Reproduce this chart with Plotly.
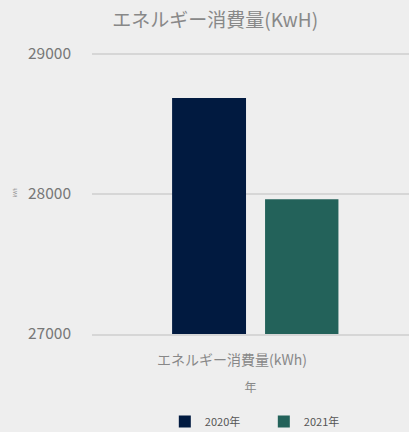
import plotly.graph_objects as go

categories = ["エネルギー消費量(kWh)"]
series_names = ["2020年", "2021年"]
values_2020 = [28684]
values_2021 = [27962]
y_ticks = [27000, 28000, 29000]
y_tick_text = ["27000", "28000", "29000"]

colors = ["#011a40", "#23625a"]
FONT = "Noto Sans CJK JP"
GRID = "#d6d6d6"

fig = go.Figure()
fig.add_trace(go.Bar(x=categories, y=values_2020, name=series_names[0],
                     marker=dict(color=colors[0], line=dict(width=0)),
                     width=0.264, offset=-0.214))
fig.add_trace(go.Bar(x=categories, y=values_2021, name=series_names[1],
                     marker=dict(color=colors[1], line=dict(width=0)),
                     width=0.262, offset=0.118))

fig.update_layout(
    width=409, height=432,
    margin=dict(l=92, r=0, t=51.2, b=97.5, autoexpand=False),
    paper_bgcolor="#eeeeee", plot_bgcolor="#eeeeee",
    barmode="overlay",
    font=dict(family=FONT, color="#777777"),
    title=dict(text="エネルギー消費量(KwH)", x=0.526, xref="container", xanchor="center",
               y=412/432, yref="container", yanchor="middle",
               font=dict(size=19, color="#888888", family=FONT)),
    xaxis=dict(range=[-0.5, 0.632], showgrid=False, zeroline=False,
               showline=True, linecolor=GRID, linewidth=1.5,
               ticks="", ticklabelstandoff=12,
               tickfont=dict(size=14, color="#888888"),
               title=dict(text="年", font=dict(size=12, color="#888888"), standoff=16)),
    yaxis=dict(range=[27000, 29020], tickvals=y_ticks, ticktext=y_tick_text, showgrid=True,
               gridcolor=GRID, gridwidth=1.5, zeroline=False, showline=False,
               ticks="", ticklabelstandoff=20,
               tickfont=dict(size=15.5, color="#777777"),
               title=dict(text="kWh", font=dict(size=5, color="#999999"), standoff=10)),
    legend=dict(orientation="h", x=0.542, xanchor="center", y=-0.309, yanchor="middle",
                font=dict(size=11, color="#555555"), entrywidth=54),
    showlegend=True,
)

fig.write_html("out.html", config={"displayModeBar": False},
               post_script="document.body.style.margin='0';document.body.style.background='#eeeeee';")
